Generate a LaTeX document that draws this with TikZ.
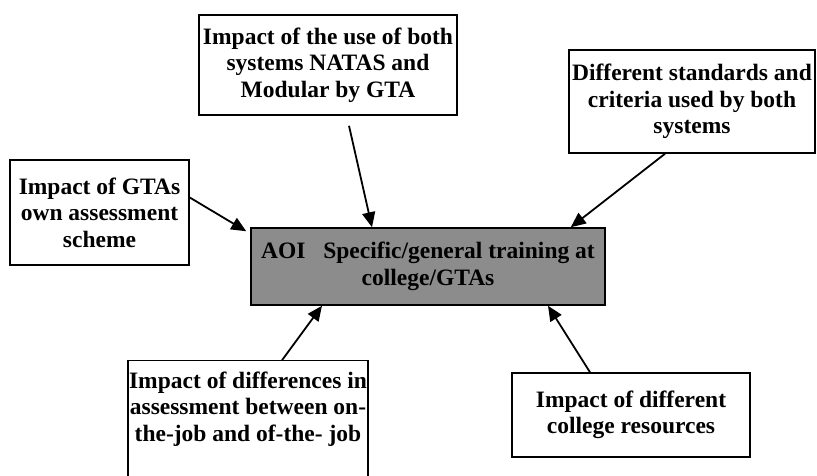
\documentclass[tikz,border=0pt]{standalone}
\usepackage{fontspec}
\setmainfont{Liberation Serif}
\usetikzlibrary{arrows.meta}
\tikzset{box/.style={draw,line width=1.5pt,align=center,inner sep=0pt,font=\bfseries\fontsize{23.5}{26.5}\selectfont},
  shaded/.style={box,fill=black!45},
  arr/.style={-{Triangle[length=15pt,width=13pt]},line width=1.8pt}}
\begin{document}
\begin{tikzpicture}[x=1pt,y=-1pt]
\useasboundingbox (0,0) rectangle (817,475);
\node[box,minimum width=179pt,minimum height=105pt] (gtas) at (99.5,212.5) {Impact of GTAs\\own assessment\\scheme};
\node[box,minimum width=258pt,minimum height=100pt] (natas) at (328,65) {Impact of the use of both\\systems NATAS and\\Modular by GTA};
\node[box,minimum width=246pt,minimum height=103pt] (crit) at (692,101.5) {Different standards and\\criteria used by both\\systems};
\node[shaded,minimum width=354pt,minimum height=77pt] (aoi) at (428,266.5) {AOI~~ Specific/general training at\\college/GTAs};
\node[box,draw=none,minimum height=96pt] (diff) at (248,409) {Impact of differences in\\assessment between on-\\the-job and of-the- job};
\draw[line width=1.5pt] ([shift={(-120pt,-140pt)}]diff.north) -- ([xshift=-120pt]diff.north) -- ([xshift=120pt]diff.north) -- ([shift={(120pt,-140pt)}]diff.north);
\node[box,minimum width=238pt,minimum height=84pt] (res) at (631,415) {Impact of different\\college resources};
\draw[arr] ([yshift=15pt]gtas.east) -- ([shift={(-4pt,-4pt)}]aoi.north west);
\draw[arr] ([shift={(21pt,-10pt)}]natas.south) -- ([xshift=-56pt]aoi.north);
\draw[arr] ([xshift=-27pt]crit.south) -- ([xshift=-35pt]aoi.north east);
\draw[arr] ([xshift=34pt]diff.north) -- ([xshift=-106pt]aoi.south);
\draw[arr] ([xshift=-41pt]res.north) -- ([xshift=120pt]aoi.south);
\end{tikzpicture}
\end{document}
